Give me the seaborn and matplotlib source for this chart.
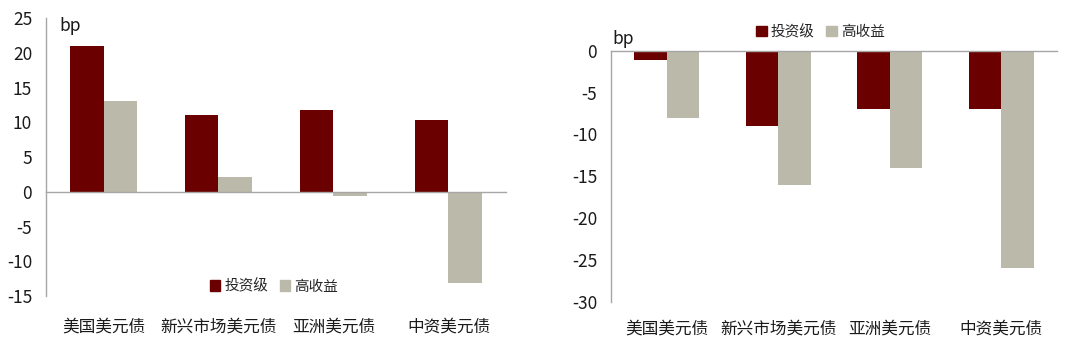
import pandas as pd
import matplotlib
matplotlib.use("Agg")
import matplotlib.pyplot as plt
import matplotlib.transforms as mtransforms
from matplotlib.patches import Patch
import seaborn as sns

categories = ["美国美元债", "新兴市场美元债", "亚洲美元债", "中资美元债"]
series = ["投资级", "高收益"]
left_ig = [21.0, 11.0, 11.8, 10.3]
left_hy = [13.0, 2.1, -0.6, -13.2]
right_ig = [-1.1, -9.0, -7.0, -7.0]
right_hy = [-8.0, -16.0, -14.0, -26.0]
left_ticks = [25, 20, 15, 10, 5, 0, -5, -10, -15]
right_ticks = [0, -5, -10, -15, -20, -25, -30]

colors = ["#6b0000", "#bbb9a9"]
axis_color = "#a6a6a6"
text_color = "#1a1a1a"

sns.set_theme(style="white")
plt.rcParams["font.family"] = ["Noto Sans CJK SC", "DejaVu Sans"]
plt.rcParams["axes.unicode_minus"] = False


def make_df(ig, hy):
    return pd.DataFrame({
        "cat": categories * 2,
        "kind": [series[0]] * 4 + [series[1]] * 4,
        "val": ig + hy,
    })


def draw(ax, ig, hy, ticks):
    sns.barplot(data=make_df(ig, hy), x="cat", y="val", hue="kind",
                palette=colors, width=0.58, saturation=1, ax=ax,
                legend=False, linewidth=0)
    ax.set_ylim(min(ticks), max(ticks))
    ax.set_xlim(-0.5, 3.5)
    ax.set_yticks(ticks)
    ax.set_yticklabels([str(t) for t in ticks], fontsize=12.5, color=text_color)
    ax.set_xlabel("")
    ax.set_ylabel("")
    for s in ["top", "right"]:
        ax.spines[s].set_visible(False)
    ax.spines["left"].set_color(axis_color)
    ax.spines["bottom"].set_color(axis_color)
    ax.spines["bottom"].set_position(("data", 0))
    ax.spines["left"].set_linewidth(1.0)
    ax.spines["bottom"].set_linewidth(1.0)
    ax.tick_params(axis="y", length=0, pad=10)
    ax.set_xticks([0.5, 1.5, 2.5, 3.5], minor=True)
    ax.set_xticks(range(4))
    ax.set_xticklabels([])
    ax.tick_params(axis="x", which="major", length=0)
    ax.tick_params(axis="x", which="minor", direction="in", length=4,
                   color=axis_color, width=1.0)
    trans = mtransforms.blended_transform_factory(ax.transData, ax.transAxes)
    for i, c in enumerate(categories):
        ax.text(i, -0.11, c, transform=trans, ha="center", va="center",
                fontsize=12, color=text_color)


fig = plt.figure(figsize=(10.8, 3.51), dpi=100)
ax1 = fig.add_axes([0.0426, 0.1567, 0.4259, 0.792])
ax2 = fig.add_axes([0.5657, 0.1405, 0.4130, 0.7151])

draw(ax1, left_ig, left_hy, left_ticks)
draw(ax2, right_ig, right_hy, right_ticks)

ax1.text(0.03, 0.97, "bp", transform=ax1.transAxes, fontsize=12.5,
         va="center", ha="left", color=text_color)
ax2.text(0.004, 1.045, "bp", transform=ax2.transAxes, fontsize=12.5,
         va="center", ha="left", color=text_color)

handles = [Patch(color=colors[0], label=series[0]),
           Patch(color=colors[1], label=series[1])]
leg_kw = dict(frameon=False, fontsize=10.5, handlelength=0.7,
              handleheight=0.7, handletextpad=0.3, columnspacing=0.8, ncol=2)
ax1.legend(handles=handles, loc="center", bbox_to_anchor=(0.496, 0.035),
           **leg_kw)
ax2.legend(handles=handles, loc="center", bbox_to_anchor=(0.47, 1.075),
           **leg_kw)

fig.savefig("out.png", dpi=100)
